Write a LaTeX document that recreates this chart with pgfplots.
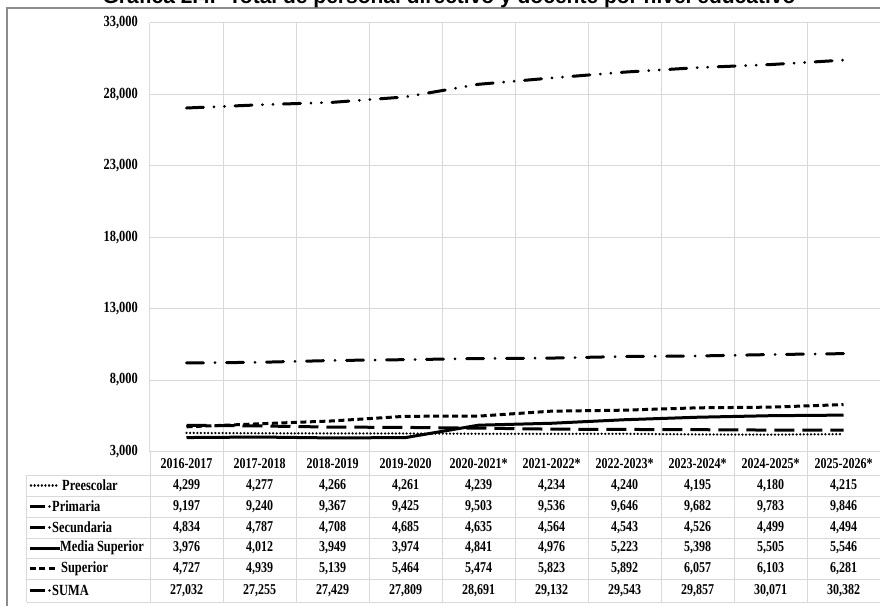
\documentclass[border=0pt]{standalone}
\usepackage{fontspec}
\setmainfont{Liberation Serif}
\newfontfamily\condfont[FakeStretch=0.8]{Liberation Serif}
\newfontfamily\titlefont{Liberation Sans}
\usepackage{pgfplots}
\usepackage{pgfplotstable}
\pgfplotsset{compat=1.18}
\definecolor{gridc}{HTML}{D9D9D9}
\definecolor{framec}{HTML}{8C8C8C}

\pgfplotstableread{
x Pre Pri Sec Med Sup Suma
0 4299 9197 4834 3976 4727 27032
1 4277 9240 4787 4012 4939 27255
2 4266 9367 4708 3949 5139 27429
3 4261 9425 4685 3974 5464 27809
4 4239 9503 4635 4841 5474 28691
5 4234 9536 4564 4976 5823 29132
6 4240 9646 4543 5223 5892 29543
7 4195 9682 4526 5398 6057 29857
8 4180 9783 4499 5505 6103 30071
9 4215 9846 4494 5546 6281 30382
}\datatable

\begin{document}
\begin{tikzpicture}
\begin{axis}[
  name=ax, scale only axis,
  width=730pt, height=428.8pt,
  xmin=-0.5, xmax=9.5, ymin=3000, ymax=33000,
  xtick={-0.5,0.5,...,9.5}, xticklabels={},
  ytick={3000,8000,...,33000},
  scaled y ticks=false,
  grid=major, grid style={draw=gridc, line width=1pt},
  axis line style={draw=none}, major tick length=0pt,
  yticklabel style={font=\condfont\fontsize{15.5}{17}\selectfont\bfseries, inner sep=0pt, xshift=-12pt, anchor=east},
  /pgf/number format/1000 sep={,},
  /pgf/number format/assume math mode=true,
  clip=false,
]
\addplot[black, line width=2.5pt, line cap=round, dash pattern=on 0.01pt off 3.6pt] table[x=x,y=Pre]{\datatable};
\addplot[black, line width=3pt, line cap=round, dash pattern=on 17pt off 11.5pt on 0.01pt off 11.5pt] table[x=x,y=Pri]{\datatable};
\addplot[black, line width=3pt, dash pattern=on 20pt off 8pt] table[x=x,y=Sec]{\datatable};
\addplot[black, line width=3pt] table[x=x,y=Med]{\datatable};
\addplot[black, line width=3pt, dash pattern=on 6pt off 3.5pt] table[x=x,y=Sup]{\datatable};
\addplot[black, line width=3pt, line cap=round, dash pattern=on 17pt off 10.5pt on 0.01pt off 10.5pt on 0.01pt off 10.5pt] table[x=x,y=Suma]{\datatable};
\end{axis}

\begin{scope}[x=1pt, y=1pt, shift={(ax.south west)}, shift={(-150pt,-154.5pt)}]
% table grid
\foreach \k in {0,...,10} \draw[gridc, line width=1pt] ({150+73*\k},154.5) -- ({150+73*\k},4);
\foreach \yy in {131,110,89,68,48,27,4} \draw[gridc, line width=1pt] (27,\yy) -- (880,\yy);
\draw[gridc, line width=1pt] (27,131) -- (27,4);

% header
\foreach \lab [count=\i from 0] in {2016-2017,2017-2018,2018-2019,2019-2020,2020-2021*,2021-2022*,2022-2023*,2023-2024*,2024-2025*,2025-2026*}
  \node[font=\condfont\fontsize{15}{17}\selectfont\bfseries, inner sep=0pt] at ({186.5+73*\i},142.5) {\lab};

% values
\foreach \col/\yy in {Pre/120.5, Pri/99.5, Sec/78.5, Med/58, Sup/37.5, Suma/15.5} {
  \foreach \i in {0,...,9} {
    \pgfplotstablegetelem{\i}{\col}\of\datatable
    \node[font=\condfont\fontsize{15}{17}\selectfont\bfseries, inner sep=0pt] at ({186.5+73*\i},\yy)
      {\pgfmathprintnumber[assume math mode=true,1000 sep={,}]{\pgfplotsretval}};
  }
}

% legend keys and names
\tikzset{rowname/.style={font=\condfont\fontsize{15.5}{17}\selectfont\bfseries, inner sep=0pt, anchor=west}}
\draw[black, line width=2.5pt, line cap=round, dash pattern=on 0.01pt off 3.6pt] (31,120.5) -- (59,120.5);
\node[rowname] at (62,120.5) {Preescolar};
\draw[black, line width=3pt] (30,99.5) -- (45,99.5);
\fill[black] (49.5,99.5) circle (1.3pt);
\node[rowname] at (52,99.5) {Primaria};
\draw[black, line width=3pt] (30,78.5) -- (45,78.5);
\fill[black] (49.5,78.5) circle (1.3pt);
\node[rowname] at (52,78.5) {Secundaria};
\draw[black, line width=3pt] (30,58) -- (60,58);
\node[rowname] at (60,58) {Media Superior};
\draw[black, line width=3pt, dash pattern=on 6pt off 3.5pt] (30,37.5) -- (58,37.5);
\node[rowname] at (61,37.5) {Superior};
\draw[black, line width=3pt] (30,15.5) -- (45,15.5);
\fill[black] (49.5,15.5) circle (1.3pt);
\node[rowname] at (52,15.5) {SUMA};

% frame and title
\draw[framec, line width=1.5pt] (7,0) -- (7,598) -- (880,598);
\node[font=\titlefont\bfseries\fontsize{21}{24}\selectfont, anchor=base, inner sep=0pt] at (449,602)
  {Gráfica 2.4.- Total de personal directivo y docente por nivel educativo};

\pgfresetboundingbox
\useasboundingbox (0,0) rectangle (880,606);
\end{scope}
\end{tikzpicture}
\end{document}
